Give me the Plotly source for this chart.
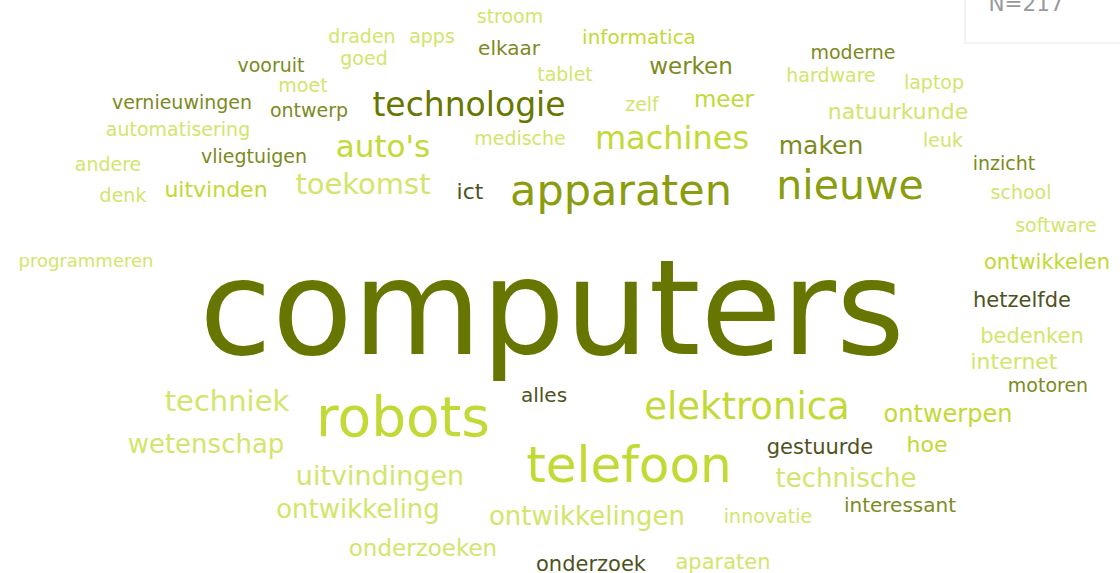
import plotly.graph_objects as go

# ---- data: words and their (estimated) display weight (font px) ----
words = [
    "stroom", "draden", "apps", "informatica", "elkaar", "goed", "vooruit", "moderne",
    "moet", "tablet", "werken", "hardware", "laptop", "vernieuwingen", "ontwerp",
    "technologie", "zelf", "meer", "natuurkunde", "automatisering", "medische",
    "machines", "maken", "leuk", "auto's", "andere", "vliegtuigen", "inzicht", "denk",
    "uitvinden", "toekomst", "ict", "apparaten", "nieuwe", "school", "software",
    "programmeren", "ontwikkelen", "computers", "hetzelfde", "bedenken", "internet",
    "motoren", "techniek", "robots", "alles", "elektronica", "ontwerpen", "wetenschap",
    "gestuurde", "hoe", "telefoon", "uitvindingen", "technische", "ontwikkeling",
    "interessant", "ontwikkelingen", "innovatie", "onderzoeken", "onderzoek", "aparaten",
]
weights = [
    19, 19, 19, 20, 20, 19, 19, 19,
    19, 19, 23, 19, 19, 19, 19,
    33, 19, 23, 22, 19, 19,
    32, 25, 19, 31, 19, 19, 19, 19,
    22, 29, 22, 43, 41, 19, 19,
    18, 21, 132, 21, 21, 22,
    19, 29, 55, 20, 37, 24, 26,
    21, 22, 50, 27, 26, 26,
    20, 26, 19, 23, 21, 21,
]
# colour group per word: 0 darkest, 1 olive, 2 yellow-green, 3 light, 4 olive-grey, 5 dark
groups = [
    3, 3, 3, 2, 4, 3, 4, 4,
    3, 3, 4, 3, 3, 4, 4,
    0, 3, 2, 3, 3, 3,
    2, 4, 3, 2, 3, 4, 4, 3,
    2, 3, 5, 1, 1, 3, 3,
    3, 2, 0, 5, 3, 3,
    4, 3, 2, 5, 2, 2, 3,
    5, 2, 2, 3, 3, 3,
    4, 3, 3, 3, 5, 3,
]
N_label = "N=217"

# ---- layout: word centres (x, centre of x-height band) in pixels ----
pos_x = [
    510, 362, 432, 639, 509, 364, 271, 853,
    303, 565, 691, 831, 934, 182, 309,
    469, 642, 724, 898, 178, 520,
    672, 821, 943, 383, 108, 254, 1004, 123,
    216, 363, 470, 621, 850, 1021, 1056,
    86, 1047, 552, 1022, 1032, 1014,
    1048, 227, 403, 544, 747, 948, 206,
    820, 927, 629, 380, 846, 358,
    900, 587, 768, 423, 591, 723,
]
pos_y = [
    15, 35, 35, 36, 47, 57, 64, 51,
    84, 73, 65, 74, 81, 101, 109,
    104, 103, 98, 110, 128, 137,
    137, 144, 139, 146, 163, 155, 162, 194,
    188, 183, 190, 190, 185, 191, 224,
    259, 260, 315, 298, 334, 360,
    384, 400, 418, 394, 406, 413, 443,
    445, 443, 465, 475, 477, 508,
    504, 515, 515, 547, 562, 560,
]

palette = ["#677600", "#8b9d0e", "#c3d935", "#d3e56b", "#7d8a22", "#4e5221"]

W, H = 1120, 573
fig = go.Figure()

# N box
fig.add_shape(type="rect", x0=965, x1=1130, y0=-20, y1=43, xref="x", yref="y",
              line=dict(color="#e6e6e6", width=1), fillcolor="white", layer="below")

ys = [y + 0.02 * s + 3 for y, s in zip(pos_y, weights)]
fig.add_trace(go.Scatter(
    x=pos_x, y=ys, mode="text", text=words,
    textposition="middle center",
    textfont=dict(family="DejaVu Sans", size=weights,
                  color=[palette[g] for g in groups]),
    hoverinfo="text", cliponaxis=False, showlegend=False,
))
fig.add_trace(go.Scatter(
    x=[1026], y=[13 - 0.35 * 21.5], mode="text", text=[N_label],
    textposition="middle center",
    textfont=dict(family="DejaVu Sans", size=21.5, color="#9a9a9a"),
    hoverinfo="skip", cliponaxis=False, showlegend=False,
))

fig.update_layout(
    width=W, height=H, autosize=False,
    margin=dict(l=0, r=0, t=0, b=0),
    paper_bgcolor="white", plot_bgcolor="white",
    xaxis=dict(range=[0, W], visible=False, fixedrange=True),
    yaxis=dict(range=[H, 0], visible=False, fixedrange=True),
)
fig.write_html(
    "out.html",
    config={"displayModeBar": False},
    post_script="document.body.style.margin='0px';document.body.style.overflow='hidden';",
)
